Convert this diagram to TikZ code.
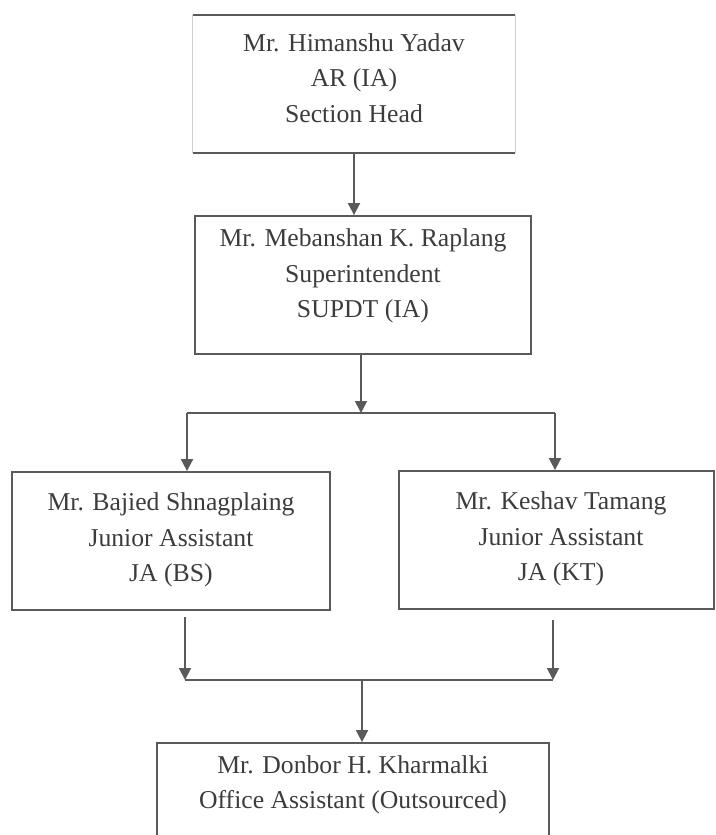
\documentclass[tikz,border=0pt]{standalone}
\usepackage{fontspec}
\setmainfont{Liberation Serif}
\usetikzlibrary{arrows.meta}
\definecolor{inkline}{HTML}{5A5A5A}
\definecolor{inkfaint}{HTML}{CFCFCF}
\definecolor{inktext}{HTML}{3C3C3C}
\begin{document}
\begin{tikzpicture}[x=1pt,y=-1pt,
  box/.style={draw=inkline, line width=1.8pt, rectangle, inner sep=0pt},
  lbl/.style={text=inktext, align=center, inner sep=0pt,
              font=\fontsize{25.7}{35.5}\selectfont},
  link/.style={draw=inkline, line width=1.8pt},
  arr/.style={link, -{Triangle[width=12pt,length=12pt]}}]
\path[use as bounding box] (0,0) rectangle (715,835);
\clip (0,0) rectangle (715,835);

% boxes (the top one has pale side edges)
\node[rectangle, inner sep=0pt, minimum width=322pt, minimum height=138pt] (b1) at (354,84) {};
\draw[inkfaint, line width=1.2pt] (b1.north west) -- (b1.south west)
                                   (b1.north east) -- (b1.south east);
\draw[inkline, line width=1.8pt] (b1.north west) -- (b1.north east)
                                 (b1.south west) -- (b1.south east);
\node[box, minimum width=336pt, minimum height=138pt] (b2) at (363,285) {};
\node[box, minimum width=318pt, minimum height=138pt] (b3) at (171,541) {};
\node[box, minimum width=315pt, minimum height=138pt] (b4) at (556.5,540) {};
\node[box, minimum width=392pt, minimum height=102pt] (b5) at (353,794) {};

% texts
\node[lbl] (t1) at (354,78) {Mr. Himanshu Yadav\\AR (IA)\\Section Head};
\node[lbl] (t2) at (363,276) {Mr. Mebanshan K. Raplang\\Superintendent\\SUPDT (IA)};
\node[lbl] (t3) at (171,540) {Mr. Bajied Shnagplaing\\Junior Assistant\\JA (BS)};
\node[lbl] (t4) at (561,539) {Mr. Keshav Tamang\\Junior Assistant\\JA (KT)};
\node[lbl] (t5) at (353,785) {Mr. Donbor H. Kharmalki\\Office Assistant (Outsourced)};

% junction points
\coordinate (j1) at (361,413);
\coordinate (jl) at (187,413);
\coordinate (jr) at (555,413);
\coordinate (sl) at (185,617);
\coordinate (sr) at (553,620);
\coordinate (ml) at (185,680);
\coordinate (mr) at (553,680);
\coordinate (m)  at (362,680);

% connectors
\draw[arr] (b1.south) -- (b1.south |- b2.north);
\draw[arr] (j1 |- b2.south) -- (j1);
\draw[link] (jl) -- (jr);
\draw[arr] (jl) -- (jl |- b3.north);
\draw[arr] (jr) -- (jr |- b4.north);
\draw[arr] (sl) -- (ml);
\draw[arr] (sr) -- (mr);
\draw[link] (ml) -- (mr);
\draw[arr] (m) -- (m |- b5.north);
\end{tikzpicture}
\end{document}
